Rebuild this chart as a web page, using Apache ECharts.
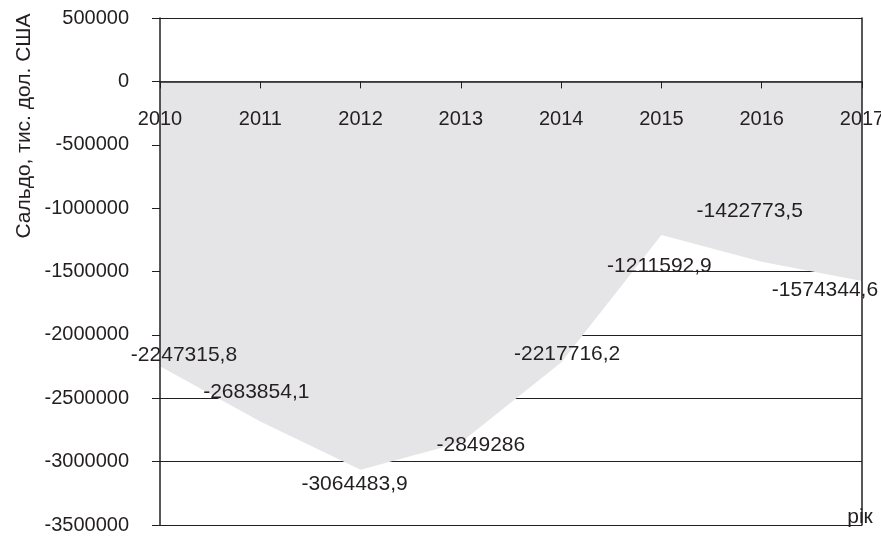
<!DOCTYPE html>
<html>
<head>
<meta charset="utf-8">
<script src="https://cdn.jsdelivr.net/npm/echarts@6/dist/echarts.min.js"></script>
<style>html,body{margin:0;padding:0;background:#fff}#c{width:881px;height:538px}</style>
</head>
<body>
<div id="c"></div>
<script>
const years = ['2010','2011','2012','2013','2014','2015','2016','2017'];
const saldo = [-2247315.8, -2683854.1, -3064483.9, -2849286, -2217716.2, -1211592.9, -1422773.5, -1574344.6];
const labelOffsets = [[24,-11],[-4,-29],[-6,14],[20,3],[6,-8],[-2,31],[-12,-51],[-37,9]];
const yTitle = 'Сальдо, тис. дол. США';
const xTitle = 'рік';

const FONT = '"Liberation Sans", Arial, sans-serif';
const TXT = '#231f20';
const LINE = '#231f20';

const chart = echarts.init(document.getElementById('c'), null, {renderer: 'canvas'});
const yBase = {type: 'value', min: -3500000, max: 500000, interval: 500000};
chart.setOption({
  animation: false,
  grid: {left: 160, right: 19, top: 18, bottom: 13, outerBoundsMode: 'none', containLabel: false},
  xAxis: [{
    type: 'category', data: years, boundaryGap: false, z: 5,
    axisLine: {onZero: true, onZeroAxisIndex: 0, lineStyle: {color: LINE, width: 1.5}},
    axisTick: {show: true, length: 7, alignWithLabel: true, lineStyle: {color: LINE, width: 1}},
    axisLabel: {show: false},
    splitLine: {show: false}
  }, {
    type: 'category', data: years, boundaryGap: false, z: 6,
    position: 'bottom', offset: -444,
    axisLine: {show: false, onZero: false}, axisTick: {show: false},
    axisLabel: {show: true, color: TXT, fontFamily: FONT, fontSize: 20, margin: 28, interval: 0},
    splitLine: {show: false}
  }],
  yAxis: [
    Object.assign({}, yBase, {
      position: 'left', z: 5,
      axisLine: {show: true, onZero: false, lineStyle: {color: LINE, width: 1.5}},
      axisTick: {show: true, length: 8, lineStyle: {color: LINE}},
      axisLabel: {color: TXT, fontFamily: FONT, fontSize: 20, margin: 31, formatter: v => String(v)},
      splitLine: {show: false}
    }),
    Object.assign({}, yBase, {
      position: 'left', z: 0,
      axisLine: {show: false}, axisTick: {show: false}, axisLabel: {show: false},
      splitLine: {show: true, lineStyle: {color: LINE, width: 1}}
    }),
    Object.assign({}, yBase, {
      position: 'right', z: 5,
      axisLine: {show: true, onZero: false, lineStyle: {color: LINE, width: 1.5}},
      axisTick: {show: false}, axisLabel: {show: false}, splitLine: {show: false}
    })
  ],
  series: [{
    type: 'line', xAxisIndex: 0, yAxisIndex: 0, z: 2,
    data: saldo.map((v, i) => ({
      value: v,
      label: {offset: labelOffsets[i]}
    })),
    symbol: 'circle', symbolSize: 1, itemStyle: {color: 'rgba(0,0,0,0)'},
    lineStyle: {width: 0},
    areaStyle: {color: '#e5e5e7', opacity: 1},
    label: {
      show: true, position: 'inside', color: TXT, fontFamily: FONT, fontSize: 21,
      align: 'center', verticalAlign: 'middle',
      formatter: p => String(p.value).replace('.', ',')
    }
  }],
  graphic: [
    {type: 'text', x: 24, y: 126, rotation: Math.PI / 2, z: 10,
     style: {text: yTitle, fill: TXT, font: '21px ' + FONT, align: 'center', verticalAlign: 'middle'}},
    {type: 'text', x: 860, y: 517, z: 10,
     style: {text: xTitle, fill: TXT, font: '21px ' + FONT, align: 'center', verticalAlign: 'middle'}}
  ]
});
</script>
</body>
</html>
